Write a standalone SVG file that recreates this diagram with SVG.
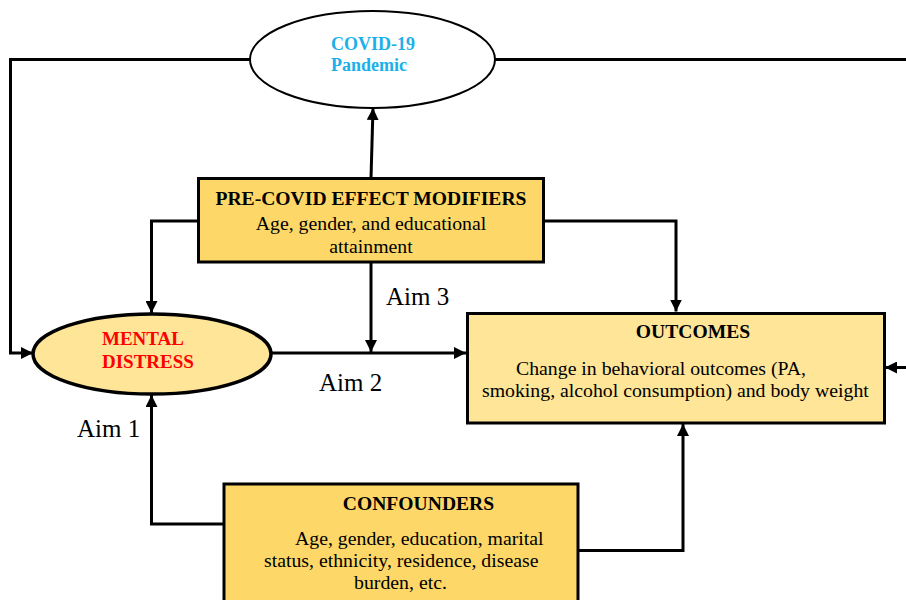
<svg xmlns="http://www.w3.org/2000/svg" width="906" height="600" viewBox="0 0 906 600">
<style>
.ln{fill:none;stroke:#000;stroke-width:3;stroke-linejoin:miter}
.serif{font-family:"Liberation Serif","Times New Roman",serif}
.b{font-weight:bold}
.reg{font-size:19.8px;fill:#000}
.aim{font-size:25px;fill:#000}
</style>
<defs>
<marker id="ah" viewBox="0 0 10 10" refX="10" refY="5" markerWidth="4" markerHeight="4" orient="auto" markerUnits="strokeWidth">
<path d="M0,0 L10,5 L0,10 z" fill="#000"/>
</marker>
</defs>
<rect width="906" height="600" fill="#fff"/>
<g id="connectors">
<polyline class="ln" points="250,59.5 10.5,59.5 10.5,353 33,353" marker-end="url(#ah)"/>
<polyline class="ln" points="495,59.5 906,59.5"/>
<line class="ln" x1="906" y1="367.5" x2="885" y2="367.5" marker-end="url(#ah)"/>
<line class="ln" x1="371" y1="178" x2="373" y2="108" marker-end="url(#ah)"/>
<polyline class="ln" points="198,221 151.5,221 151.5,313" marker-end="url(#ah)"/>
<polyline class="ln" points="544,221 676,221 676,311.5" marker-end="url(#ah)"/>
<line class="ln" x1="371" y1="262" x2="371" y2="352" marker-end="url(#ah)"/>
<line class="ln" x1="271" y1="353" x2="466" y2="353" marker-end="url(#ah)"/>
<polyline class="ln" points="224,524 151.5,524 151.5,395" marker-end="url(#ah)"/>
<polyline class="ln" points="578,550.5 683,550.5 683,424" marker-end="url(#ah)"/>
<text class="serif aim" x="386" y="305">Aim 3</text>
<text class="serif aim" x="319" y="391">Aim 2</text>
<text class="serif aim" x="77" y="437">Aim 1</text>
</g>
<g id="covid">
<ellipse cx="372.5" cy="59.5" rx="122.5" ry="48.5" fill="#fff" stroke="#000" stroke-width="2"/>
<text class="serif b" x="331" y="50" font-size="18" fill="#1CB0EA">COVID-19</text>
<text class="serif b" x="331" y="71" font-size="18" fill="#1CB0EA">Pandemic</text>
</g>
<g id="modifiers">
<rect x="198.5" y="178.5" width="345" height="83.5" fill="#FDD868" stroke="#000" stroke-width="3"/>
<text class="serif b" x="371" y="205" font-size="19.6" text-anchor="middle" fill="#000">PRE-COVID EFFECT MODIFIERS</text>
<text class="serif reg" x="371" y="230" text-anchor="middle">Age, gender, and educational</text>
<text class="serif reg" x="371" y="253" text-anchor="middle">attainment</text>
</g>
<g id="mental">
<ellipse cx="152" cy="354" rx="119" ry="40" fill="#FEE597" stroke="#000" stroke-width="3.5"/>
<text class="serif b" x="102" y="345" font-size="19" fill="#FF0000">MENTAL</text>
<text class="serif b" x="102" y="368" font-size="19" fill="#FF0000">DISTRESS</text>
</g>
<g id="outcomes">
<rect x="467.5" y="313.5" width="417" height="109.5" fill="#FEE597" stroke="#000" stroke-width="3"/>
<text class="serif b" x="693" y="338" font-size="19.6" text-anchor="middle" fill="#000">OUTCOMES</text>
<text class="serif reg" x="516" y="375">Change in behavioral outcomes (PA,</text>
<text class="serif reg" x="482" y="397">smoking, alcohol consumption) and body weight</text>
</g>
<g id="confounders">
<rect x="224" y="484" width="354" height="130" fill="#FDD868" stroke="#000" stroke-width="3"/>
<text class="serif b" x="418.5" y="510" font-size="19.6" text-anchor="middle" fill="#000">CONFOUNDERS</text>
<text class="serif reg" x="295" y="545">Age, gender, education, marital</text>
<text class="serif reg" x="264" y="567">status, ethnicity, residence, disease</text>
<text class="serif reg" x="400.5" y="589" text-anchor="middle">burden, etc.</text>
</g>
</svg>
